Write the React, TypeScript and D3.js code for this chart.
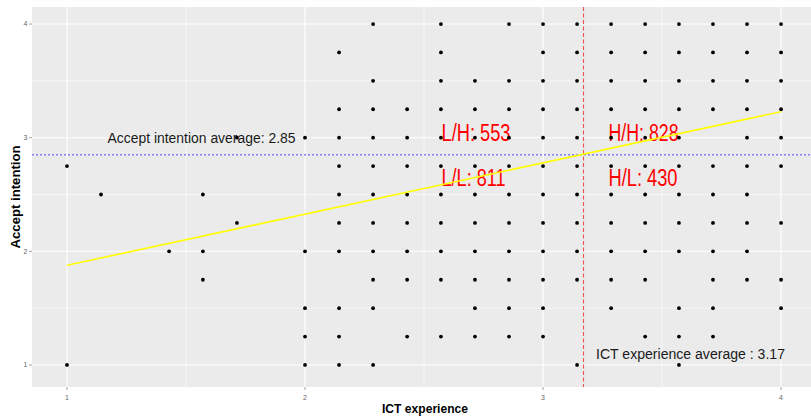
import React from "react";
import * as d3 from "d3";

// ICT experience levels (x) and the accept-intention values observed at each level
const ictLevels: number[] = [
  1, 1.143, 1.286, 1.429, 1.571, 1.714, 1.857, 2, 2.143, 2.286, 2.429,
  2.571, 2.714, 2.857, 3, 3.143, 3.286, 3.429, 3.571, 3.714, 3.857, 4,
];
const acceptByLevel: number[][] = [
  [2.75, 1],
  [2.5],
  [],
  [2],
  [2.5, 2, 1.75],
  [3, 2.25],
  [],
  [3, 2, 1.5, 1.25, 1],
  [3.75, 3.25, 3, 2.75, 2.5, 2.25, 2, 1.5, 1.25, 1],
  [4, 3.5, 3.25, 3, 2.75, 2.5, 2.25, 2, 1.75, 1.5, 1],
  [3.25, 3, 2.75, 2.5, 2.25, 2, 1.75, 1.25],
  [4, 3.75, 3.5, 3.25, 3, 2.75, 2.5, 2.25, 2, 1.75, 1.25],
  [3.5, 3.25, 3, 2.75, 2.5, 2.25, 2, 1.75, 1.5, 1.25],
  [4, 3.5, 3.25, 3, 2.75, 2.5, 2.25, 2, 1.75, 1.5, 1.25],
  [4, 3.75, 3.5, 3.25, 3, 2.75, 2.5, 2.25, 2, 1.75, 1.5, 1.25],
  [4, 3.75, 3.5, 3.25, 3, 2.75, 2.5, 2.25, 2, 1.75, 1],
  [4, 3.75, 3.5, 3.25, 3, 2.75, 2.5, 2.25, 2, 1.75, 1.5],
  [4, 3.75, 3.5, 3.25, 3, 2.75, 2.5, 2.25, 2, 1.75, 1.25],
  [4, 3.75, 3.5, 3.25, 3, 2.75, 2.5, 2.25, 2, 1.5, 1.25, 1],
  [4, 3.75, 3.5, 3.25, 2.75, 2.5, 2.25, 2, 1.75, 1.5, 1.25],
  [4, 3.75, 3.5, 3.25, 3, 2.75, 2.5, 2.25, 2, 1.75],
  [4, 3.75, 3.5, 3.25, 3, 2.75, 2.25, 1.75, 1.5],
];

// Linear trend (fitted line endpoints)
const trendX: number[] = [1, 4];
const trendY: number[] = [1.877, 3.229];

// Averages
const ictAverage = 3.17;
const acceptAverage = 2.85;

// Quadrant counts
const quadrantLabels: string[] = ["L/H: 553", "H/H: 828", "L/L: 811", "H/L: 430"];

// Ticks
const xTicks: number[] = [1, 2, 3, 4];
const yTicks: number[] = [1, 2, 3, 4];
const xMinor: number[] = [1.5, 2.5, 3.5];
const yMinor: number[] = [1.5, 2.5, 3.5];

const W = 811;
const H = 417;
const panel = { left: 32, right: 817, top: 7, bottom: 387 };
const FONT = "'Liberation Sans', Arial, Helvetica, sans-serif";

export default function App() {
  const x = d3.scaleLinear().domain([0.853, 4.151]).range([panel.left, panel.right]);
  const y = d3.scaleLinear().domain([0.806, 4.15]).range([panel.bottom, panel.top]);

  const points: { x: number; y: number }[] = [];
  ictLevels.forEach((lv, i) => {
    acceptByLevel[i].forEach((v) => points.push({ x: lv, y: v }));
  });

  const line = d3
    .line<number>()
    .x((_, i) => x(trendX[i]))
    .y((d) => y(d));

  const quadPos = [
    { x: 441.5, base: 141, len: 69 },
    { x: 608.5, base: 141, len: 70 },
    { x: 441.5, base: 186, len: 64 },
    { x: 608.5, base: 186, len: 69 },
  ];

  return (
    <svg
      width={W}
      height={H}
      style={{ position: "absolute", left: 0, top: 0, background: "#fff" }}
      fontFamily={FONT}
    >
      <rect
        x={panel.left}
        y={panel.top}
        width={W - panel.left}
        height={panel.bottom - panel.top}
        fill="#ebebeb"
      />
      {xMinor.map((t) => (
        <line key={"xm" + t} x1={x(t)} x2={x(t)} y1={panel.top} y2={panel.bottom} stroke="#fff" strokeWidth={0.6} />
      ))}
      {yMinor.map((t) => (
        <line key={"ym" + t} x1={panel.left} x2={W} y1={y(t)} y2={y(t)} stroke="#fff" strokeWidth={0.6} />
      ))}
      {xTicks.map((t) => (
        <line key={"xg" + t} x1={x(t)} x2={x(t)} y1={panel.top} y2={panel.bottom} stroke="#fff" strokeWidth={1.1} />
      ))}
      {yTicks.map((t) => (
        <line key={"yg" + t} x1={panel.left} x2={W} y1={y(t)} y2={y(t)} stroke="#fff" strokeWidth={1.1} />
      ))}

      <text
        x={201.5}
        y={143}
        textAnchor="middle"
        fontSize={15.5}
        fill="#1a1a1a"
        textLength={188}
        lengthAdjust="spacingAndGlyphs"
      >
        {"Accept intention average: " + acceptAverage.toFixed(2)}
      </text>
      <text
        x={596}
        y={359}
        fontSize={15.5}
        fill="#1a1a1a"
        textLength={189}
        lengthAdjust="spacingAndGlyphs"
      >
        {"ICT experience average : " + ictAverage.toFixed(2)}
      </text>
      {quadrantLabels.map((lab, i) => (
        <text
          key={lab}
          x={quadPos[i].x}
          y={quadPos[i].base}
          fontSize={23}
          fill="#ff0000"
          textLength={quadPos[i].len}
          lengthAdjust="spacingAndGlyphs"
        >
          {lab}
        </text>
      ))}

      {points.map((p, i) => (
        <circle key={i} cx={x(p.x)} cy={y(p.y)} r={1.9} fill="#000" />
      ))}

      <line
        x1={panel.left}
        x2={W}
        y1={y(acceptAverage)}
        y2={y(acceptAverage)}
        stroke="#8080ff"
        strokeWidth={1.3}
        strokeDasharray="2,2"
      />
      <line
        x1={x(ictAverage)}
        x2={x(ictAverage)}
        y1={panel.top}
        y2={panel.bottom}
        stroke="#f05050"
        strokeWidth={1.1}
        strokeDasharray="4,2.5"
      />
      <path d={line(trendY) || ""} fill="none" stroke="#ffff00" strokeWidth={1.6} />

      {/* y axis */}
      {yTicks.map((t) => (
        <g key={"yt" + t}>
          <line x1={panel.left - 3} x2={panel.left} y1={y(t)} y2={y(t)} stroke="#666" strokeWidth={0.6} />
          <text x={panel.left - 4.5} y={y(t)} dy="0.35em" textAnchor="end" fontSize={7} fill="#666">
            {t}
          </text>
        </g>
      ))}
      {/* x axis */}
      {xTicks.map((t) => (
        <g key={"xt" + t}>
          <line x1={x(t)} x2={x(t)} y1={panel.bottom} y2={panel.bottom + 3} stroke="#666" strokeWidth={0.6} />
          <text x={x(t)} y={panel.bottom + 12.5} textAnchor="middle" fontSize={7} fill="#666">
            {t}
          </text>
        </g>
      ))}

      <text
        x={425}
        y={413}
        textAnchor="middle"
        fontSize={12.5}
        fontWeight="bold"
        fill="#000"
        textLength={86}
        lengthAdjust="spacingAndGlyphs"
      >
        ICT experience
      </text>
      <text
        transform={`translate(19.5,${(panel.top + panel.bottom) / 2}) rotate(-90)`}
        textAnchor="middle"
        fontSize={12.5}
        fontWeight="bold"
        fill="#000"
        textLength={103}
        lengthAdjust="spacingAndGlyphs"
      >
        Accept intention
      </text>
    </svg>
  );
}
